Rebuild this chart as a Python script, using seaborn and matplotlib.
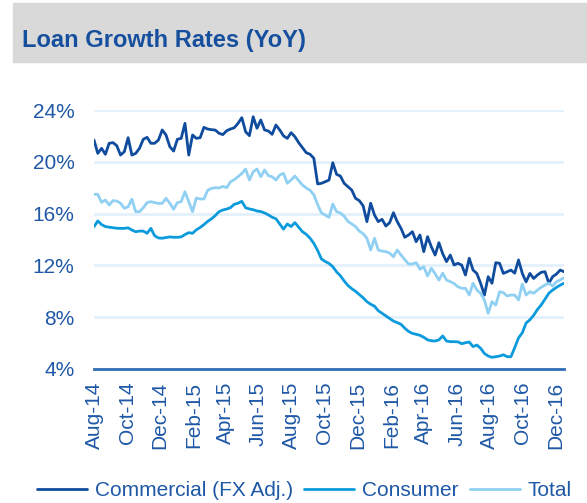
import matplotlib
matplotlib.use("Agg")
import matplotlib.pyplot as plt
import matplotlib.dates as mdates
from matplotlib.patches import Rectangle
from matplotlib.ticker import FixedLocator, FuncFormatter
import pandas as pd
import seaborn as sns

# weekly YoY loan growth (%), Aug-14 .. Dec-16
START = "2014-08-01"

commercial = [
    21.68, 20.65, 21.04, 20.58, 21.43, 21.48, 21.25, 20.52, 20.78, 21.86,
    20.52, 20.65, 21.04, 21.74, 21.89, 21.43, 21.43, 21.68, 22.46, 22.07,
    21.17, 20.83, 21.74, 21.81, 22.97, 20.52, 22.07, 21.81, 21.86, 22.66,
    22.53, 22.48, 22.45, 22.20, 22.10, 22.40, 22.53, 22.63, 22.97, 23.41,
    22.32, 22.02, 23.48, 22.59, 23.23, 22.46, 22.38, 22.12, 22.84, 22.46,
    22.00, 21.81, 22.25, 21.94, 21.48, 21.09, 20.70, 20.58, 20.27, 18.29,
    18.34, 18.46, 18.59, 19.93, 19.03, 18.90, 18.34, 18.08, 17.82, 17.18,
    17.00, 16.60, 15.38, 16.80, 15.89, 15.38, 15.56, 15.04, 15.30, 16.07,
    15.38, 14.86, 14.17, 14.35, 14.60, 13.83, 14.35, 13.06, 14.22, 13.44,
    12.80, 13.75, 12.90, 12.29, 12.80, 12.03, 12.16, 12.03, 11.26, 12.55,
    11.64, 11.38, 10.62, 9.71, 11.13, 10.62, 12.21, 12.16, 11.38, 11.51,
    11.64, 11.40, 12.42, 11.38, 10.73, 11.38, 10.99, 11.26, 11.47, 11.51,
    10.62, 11.13, 11.33, 11.64, 11.51,
]

consumer = [
    14.99, 15.43, 15.15, 15.00, 14.95, 14.91, 14.87, 14.86, 14.86, 14.90,
    14.73, 14.60, 14.65, 14.65, 14.48, 14.86, 14.29, 14.12, 14.10, 14.15,
    14.20, 14.17, 14.17, 14.20, 14.38, 14.53, 14.48, 14.75, 14.93, 15.15,
    15.40, 15.60, 15.85, 16.15, 16.28, 16.35, 16.46, 16.72, 16.80, 16.95,
    16.45, 16.36, 16.30, 16.20, 16.16, 16.05, 15.90, 15.72, 15.60, 15.20,
    14.80, 15.20, 15.00, 15.30, 14.95, 14.60, 14.40, 14.10, 13.70, 13.15,
    12.50, 12.30, 12.15, 11.90, 11.50, 11.20, 10.80, 10.45, 10.20, 10.00,
    9.75, 9.50, 9.20, 9.00, 8.85, 8.50, 8.30, 8.10, 7.90, 7.70,
    7.58, 7.45, 7.15, 6.90, 6.75, 6.68, 6.60, 6.45, 6.25, 6.18,
    6.16, 6.25, 6.55, 6.16, 6.11, 6.11, 6.10, 5.95, 6.03, 6.08,
    5.73, 5.85, 5.60, 5.20, 5.00, 4.90, 4.95, 5.00, 5.10, 4.95,
    4.95, 5.65, 6.40, 6.80, 7.55, 7.80, 8.15, 8.60, 8.95, 9.40,
    9.85, 10.10, 10.30, 10.48, 10.62,
]

total = [
    17.49, 17.49, 16.87, 17.05, 16.66, 17.00, 16.97, 16.80, 16.41, 16.53,
    17.11, 16.15, 16.15, 16.45, 16.85, 16.92, 16.85, 16.78, 16.80, 17.18,
    16.80, 16.33, 16.85, 16.92, 17.69, 16.92, 16.15, 17.20, 17.13, 17.13,
    17.80, 17.95, 18.00, 17.98, 18.10, 18.00, 18.45, 18.62, 18.85, 19.10,
    19.44, 18.59, 19.23, 19.44, 18.85, 19.37, 18.93, 18.85, 18.59, 18.98,
    19.11, 18.34, 18.60, 18.90, 18.55, 18.21, 17.98, 17.80, 17.45, 16.70,
    16.05, 15.89, 15.71, 16.74, 16.15, 16.05, 15.80, 15.40, 15.20, 15.00,
    14.65, 14.45, 14.10, 13.19, 14.09, 13.19, 13.10, 13.06, 12.95, 12.67,
    13.19, 12.80, 12.45, 12.10, 12.11, 12.21, 11.70, 11.90, 11.18, 11.78,
    11.35, 10.87, 11.40, 10.87, 10.75, 10.60, 10.35, 10.23, 10.23, 9.71,
    10.62, 10.10, 9.85, 9.33, 8.30, 9.20, 8.94, 9.97, 9.89, 9.64,
    9.71, 9.71, 9.33, 10.56, 9.71, 9.97, 9.85, 10.10, 10.31, 10.49,
    10.62, 10.41, 10.73, 10.87, 11.05,
]

series_names = ["Commercial (FX Adj.)", "Consumer", "Total"]
y_ticks = [4, 8, 12, 16, 20, 24]

COLORS = ["#0f4c9e", "#0b9bdc", "#90d0f2"]
TEXT_C = "#1f58a6"
TITLE_C = "#164f9e"

sns.set_theme(style="white")
plt.rcParams["font.family"] = ["Liberation Sans", "DejaVu Sans"]

W, H = 587, 503
fig = plt.figure(figsize=(W / 100, H / 100), dpi=100)
fig.patch.set_facecolor("white")

# grey header band + title
fig.patches.append(Rectangle((13 / W, 1 - 62 / H), 1 - 13 / W, 59 / H,
                             transform=fig.transFigure, color="#d9d9d9", zorder=0))
fig.text(22 / W, 1 - 40 / H, "Loan Growth Rates (YoY)", fontsize=17,
         fontweight="bold", color=TITLE_C, va="center", ha="left")

ax = fig.add_axes([94 / W, 1 - 369 / H, 470 / W, 259 / H])

for vals, name, col in zip([commercial, consumer, total], series_names, COLORS):
    dates = pd.date_range(START, periods=len(vals), freq="7D")
    sns.lineplot(x=dates, y=vals, ax=ax, color=col, lw=2.0, label=name)

dates = pd.date_range(START, periods=len(commercial), freq="7D")
ax.set_xlim(dates[0], dates[-1])
ax.set_ylim(4, 24)

ax.yaxis.set_major_locator(FixedLocator(y_ticks))
ax.yaxis.set_major_formatter(FuncFormatter(lambda v, p: f"{v:.0f}%"))
ax.xaxis.set_major_locator(mdates.MonthLocator(bymonth=(2, 4, 6, 8, 10, 12)))
ax.xaxis.set_major_formatter(mdates.DateFormatter("%b-%y"))

ax.yaxis.grid(True, color="#e4f1fb", lw=2)
ax.xaxis.grid(False)
ax.set_axisbelow(True)
for s in ["top", "right", "left"]:
    ax.spines[s].set_visible(False)
ax.spines["bottom"].set_color("#2f6db5")
ax.spines["bottom"].set_linewidth(2)

ax.tick_params(axis="y", labelsize=15, labelcolor=TEXT_C, length=0, pad=14)
ax.tick_params(axis="x", labelsize=15, labelcolor=TEXT_C, length=0, pad=9,
               labelrotation=90)
ax.set_xlabel("")
ax.set_ylabel("")

# legend sits at the very bottom edge, like the source
handles, labels = ax.get_legend_handles_labels()
ax.get_legend().remove()
fig.legend(handles, labels, loc="center", bbox_to_anchor=(304.5 / W, 1 - 491 / H),
           ncol=3, frameon=False, fontsize=15, handlelength=2.4,
           handletextpad=0.38, columnspacing=0.52, borderpad=0,
           borderaxespad=0, labelcolor=TEXT_C)

fig.savefig("out.png", dpi=100)
